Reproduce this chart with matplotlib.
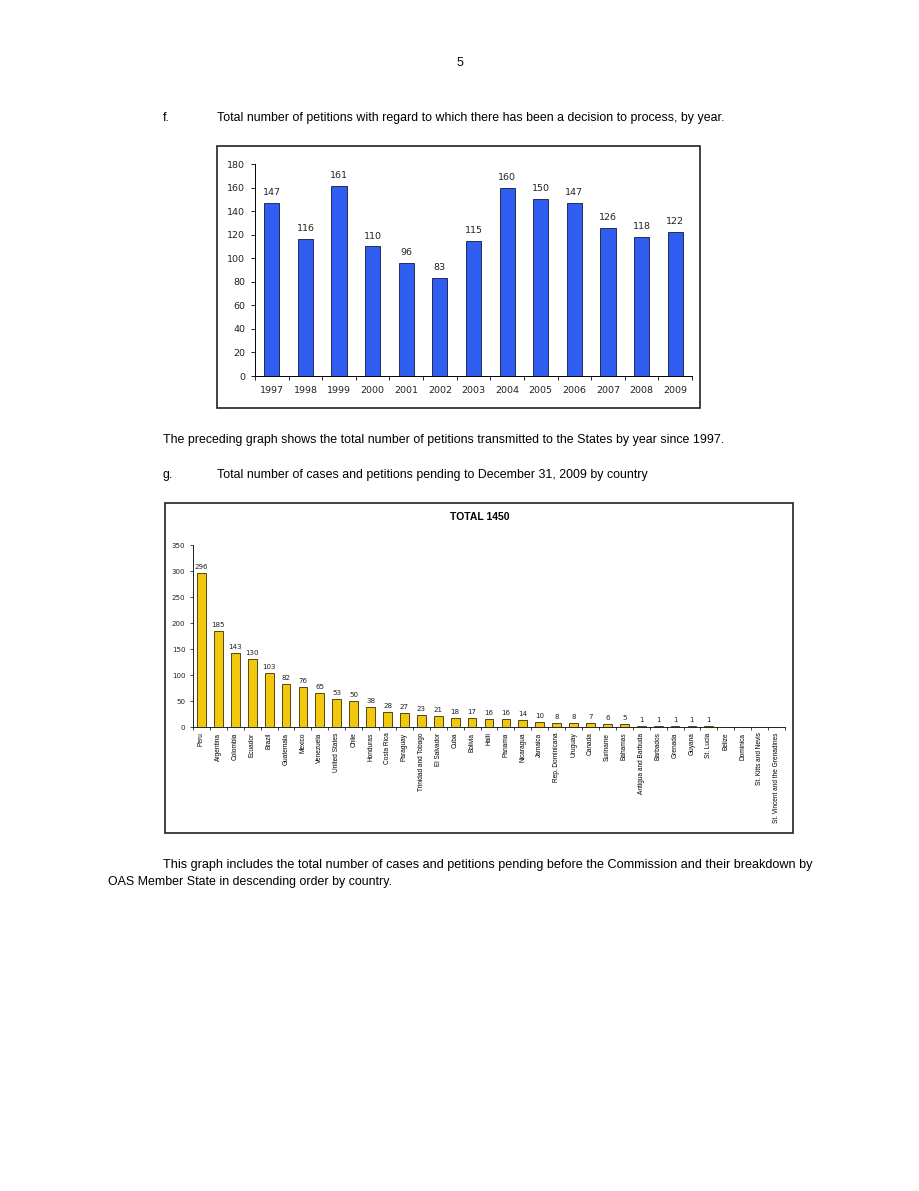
import matplotlib
matplotlib.use('Agg')
import matplotlib.pyplot as plt
from matplotlib.patches import Rectangle

W, H = 920, 1191

years = ['1997', '1998', '1999', '2000', '2001', '2002', '2003',
         '2004', '2005', '2006', '2007', '2008', '2009']
decisions = [147, 116, 161, 110, 96, 83, 115, 160, 150, 147, 126, 118, 122]

countries = ['Peru', 'Argentina', 'Colombia', 'Ecuador', 'Brazil', 'Guatemala',
             'Mexico', 'Venezuela', 'United States', 'Chile', 'Honduras',
             'Costa Rica', 'Paraguay', 'Trinidad and Tobago', 'El Salvador',
             'Cuba', 'Bolivia', 'Haiti', 'Panama', 'Nicaragua', 'Jamaica',
             'Rep. Dominicana', 'Uruguay', 'Canada', 'Suriname', 'Bahamas',
             'Antigua and Barbuda', 'Barbados', 'Grenada', 'Guyana', 'St. Lucia',
             'Belize', 'Dominica', 'St. Kitts and Nevis',
             'St. Vincent and the Grenadines']
pending = [296, 185, 143, 130, 103, 82, 76, 65, 53, 50, 38, 28, 27, 23, 21,
           18, 17, 16, 16, 14, 10, 8, 8, 7, 6, 5, 1, 1, 1, 1, 1, 0, 0, 0, 0]

BODY = ['Liberation Sans', 'DejaVu Sans']
NUM = ['DejaVu Sans']
BFS = 8.9


def rect(l, t, r, b):
    return [l / W, 1 - b / H, (r - l) / W, (b - t) / H]


def px(x, y):
    return x / W, 1 - y / H


fig = plt.figure(figsize=(W / 100, H / 100), dpi=100)
fig.patch.set_facecolor('white')

# page text
fig.text(*px(460, 63), '5', ha='center', va='center', fontsize=BFS, family=BODY)
fig.text(*px(163, 118), 'f.', ha='left', va='center', fontsize=BFS, family=BODY)
fig.text(*px(217, 118),
         'Total number of petitions with regard to which there has been a decision to process, by year.',
         ha='left', va='center', fontsize=BFS, family=BODY)
fig.text(*px(163, 440),
         'The preceding graph shows the total number of petitions transmitted to the States by year since 1997.',
         ha='left', va='center', fontsize=BFS, family=BODY)
fig.text(*px(163, 475), 'g.', ha='left', va='center', fontsize=BFS, family=BODY)
fig.text(*px(217, 475),
         'Total number of cases and petitions pending to December 31, 2009 by country',
         ha='left', va='center', fontsize=BFS, family=BODY)
fig.text(*px(163, 865),
         'This graph includes the total number of cases and petitions pending before the Commission and their breakdown by',
         ha='left', va='center', fontsize=9.1, family=BODY)
fig.text(*px(108, 882),
         'OAS Member State in descending order by country.',
         ha='left', va='center', fontsize=BFS, family=BODY)

# frames around the charts
for (l, t, r, b) in [(217, 146, 700, 408), (165, 503, 793, 833)]:
    fig.patches.append(Rectangle((l / W, 1 - b / H), (r - l) / W, (b - t) / H,
                                 transform=fig.transFigure, fill=False,
                                 edgecolor='#222222', linewidth=1.2))

# top chart
ax1 = fig.add_axes(rect(255, 164, 692, 376))
x1 = range(len(years))
ax1.bar(x1, decisions, width=0.45, color='#2f5ef0', edgecolor='#101840', linewidth=0.6)
for i, v in enumerate(decisions):
    ax1.text(i, v + 5, str(v), ha='center', va='bottom', fontsize=6.8, family=NUM,
             color='#222222')
ax1.set_xlim(-0.5, len(years) - 0.5)
ax1.set_ylim(0, 180)
ax1.set_yticks(range(0, 181, 20))
ax1.set_xticks([i + 0.5 for i in range(-1, len(years))], minor=False)
ax1.set_xticklabels([])
ax1.set_xticks(list(x1), minor=True)
ax1.set_xticklabels(years, minor=True)
ax1.tick_params(axis='x', which='minor', length=0, pad=7, labelsize=6.8, labelcolor='#222222')
ax1.tick_params(axis='x', which='major', length=3, width=0.6)
ax1.tick_params(axis='y', length=3, width=0.6, labelsize=6.8, pad=4, labelcolor='#222222')
for lab in ax1.get_xticklabels(minor=True) + ax1.get_yticklabels():
    lab.set_family(NUM)
for s in ['top', 'right']:
    ax1.spines[s].set_visible(False)
for s in ['left', 'bottom']:
    ax1.spines[s].set_linewidth(0.7)

# bottom chart
ax2 = fig.add_axes(rect(193, 545, 785, 727))
x2 = range(len(countries))
ax2.bar(x2, pending, width=0.52, color='#f2c80f', edgecolor='#3a2e00', linewidth=0.6)
for i, v in enumerate(pending):
    if v > 0:
        ax2.text(i, v + 6, str(v), ha='center', va='bottom', fontsize=5.1, family=NUM,
                 color='#222222')
ax2.set_xlim(-0.5, len(countries) - 0.5)
ax2.set_ylim(0, 350)
ax2.set_yticks(range(0, 351, 50))
ax2.set_xticks([i + 0.5 for i in range(-1, len(countries))], minor=False)
ax2.set_xticklabels([])
ax2.set_xticks(list(x2), minor=True)
ax2.set_xticklabels(countries, minor=True, rotation=90)
ax2.tick_params(axis='x', which='minor', length=0, pad=4, labelsize=4.7)
ax2.tick_params(axis='x', which='major', length=2.5, width=0.5)
ax2.tick_params(axis='y', length=2.5, width=0.5, labelsize=5.1, pad=3, labelcolor='#222222')
for lab in ax2.get_xticklabels(minor=True):
    lab.set_family(BODY)
for lab in ax2.get_yticklabels():
    lab.set_family(NUM)
for s in ['top', 'right']:
    ax2.spines[s].set_visible(False)
for s in ['left', 'bottom']:
    ax2.spines[s].set_linewidth(0.6)

fig.text(*px(480, 517), 'TOTAL 1450', ha='center', va='center', fontsize=7.5,
         fontweight='bold', family=BODY)

fig.savefig('out.png', dpi=100)
